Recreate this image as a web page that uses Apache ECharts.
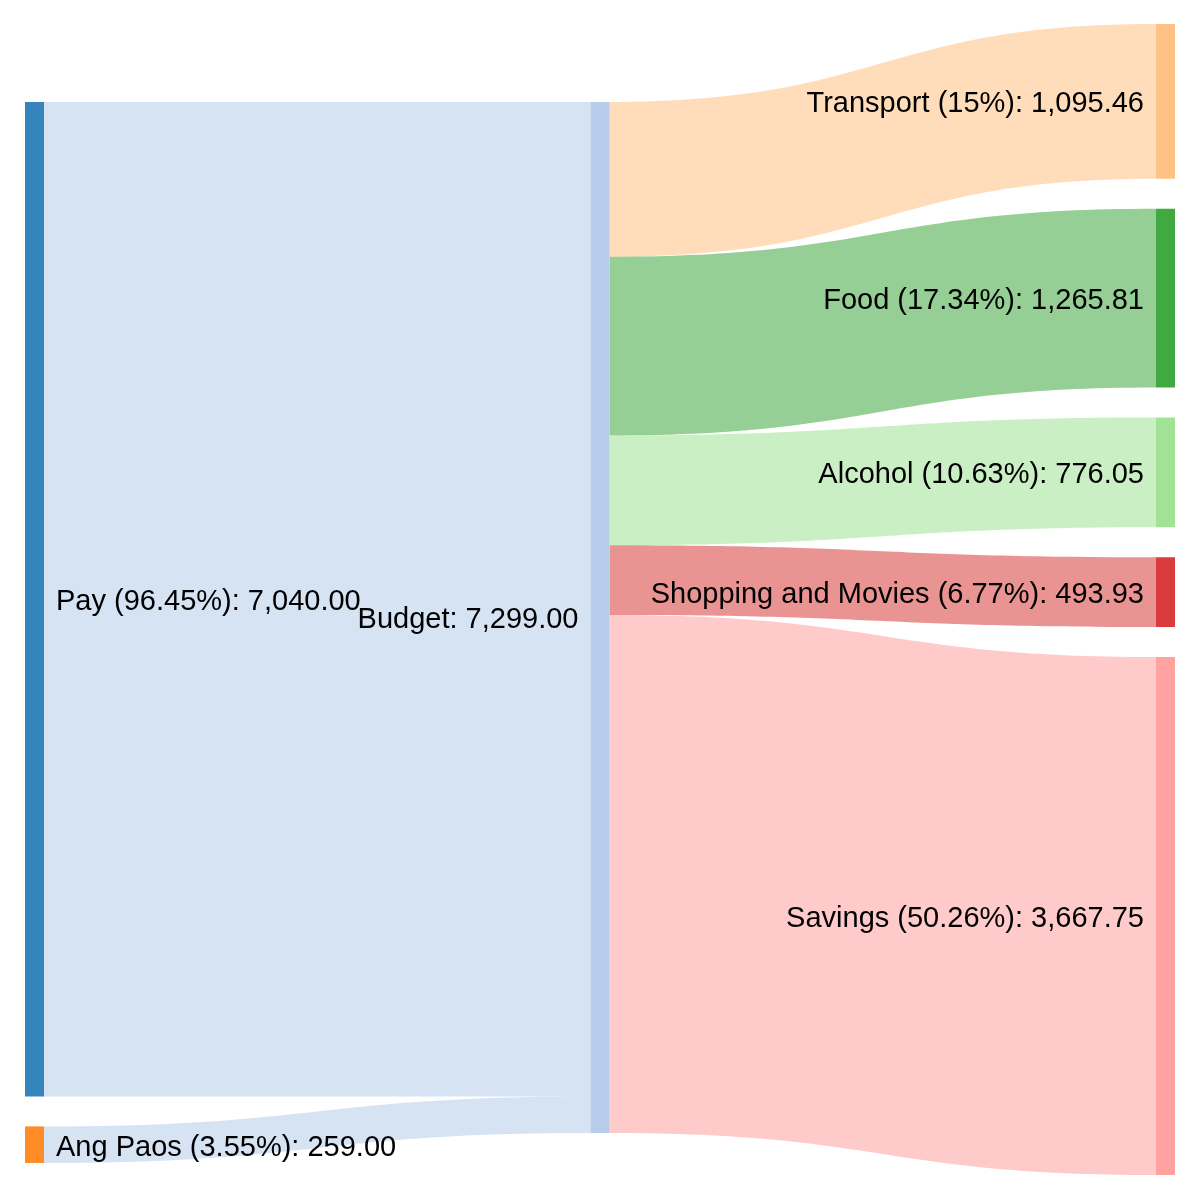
<!DOCTYPE html>
<html>
<head>
<meta charset="utf-8">
<style>html,body{margin:0;padding:0;background:#fff}#c{width:1200px;height:1200px}</style>
<script src="https://cdn.jsdelivr.net/npm/echarts@6/dist/echarts.min.js"></script>
</head>
<body>
<div id="c"></div>
<script>
const nodeNames = ["Pay", "Ang Paos", "Budget", "Transport", "Food", "Alcohol", "Shopping and Movies", "Savings"];
const nodePercents = ["96.45%", "3.55%", null, "15%", "17.34%", "10.63%", "6.77%", "50.26%"];
const nodeColors = ["#1f77b4", "#ff7f0e", "#aec7e8", "#ffbb78", "#2ca02c", "#98df8a", "#d62728", "#ff9896"];
const linkSources = ["Pay", "Ang Paos", "Budget", "Budget", "Budget", "Budget", "Budget"];
const linkTargets = ["Budget", "Budget", "Transport", "Food", "Alcohol", "Shopping and Movies", "Savings"];
const linkValues = [7040.00, 259.00, 1095.46, 1265.81, 776.05, 493.93, 3667.75];

function fmt(v) {
  return v.toLocaleString('en-US', {minimumFractionDigits: 2, maximumFractionDigits: 2});
}
const nodeValue = {};
nodeNames.forEach(n => {
  const inV = linkValues.filter((v, i) => linkTargets[i] === n).reduce((a, b) => a + b, 0);
  const outV = linkValues.filter((v, i) => linkSources[i] === n).reduce((a, b) => a + b, 0);
  nodeValue[n] = Math.max(inV, outV);
});

function buildNodes(localYs) {
  return nodeNames.map((n, i) => {
    const o = {
      name: n,
      itemStyle: {color: nodeColors[i], opacity: 0.9},
      label: {
        position: i < 2 ? 'right' : 'left',
        formatter: nodePercents[i] ? `${n} (${nodePercents[i]}): ${fmt(nodeValue[n])}` : `${n}: ${fmt(nodeValue[n])}`
      }
    };
    if (localYs && localYs[n] != null) o.localY = localYs[n];
    return o;
  });
}
const links = linkValues.map((v, i) => ({source: linkSources[i], target: linkTargets[i], value: v}));

function makeOption(localYs) {
  return {
    backgroundColor: '#ffffff',
    animation: false,
    series: [{
      type: 'sankey',
      left: 25, right: 25, top: 24, bottom: 25,
      nodeWidth: 19,
      nodeGap: 30,
      layoutIterations: 0,
      draggable: false,
      emphasis: {disabled: true},
      data: buildNodes(localYs),
      links: links,
      itemStyle: {borderWidth: 0},
      lineStyle: {color: 'target', opacity: 0.5, curveness: 0.5},
      label: {
        color: '#000',
        fontFamily: 'Liberation Sans, Arial, sans-serif',
        fontSize: 29,
        distance: 12,
        offset: [0, 3],
        textBorderWidth: 0
      }
    }]
  };
}

const chart = echarts.init(document.getElementById('c'), null, {renderer: 'canvas'});
chart.setOption(makeOption(null));

// One relaxation step (as in d3-sankey): centre the middle node on the
// value-weighted centre of its targets, moving the upstream columns with it.
try {
  const sm = chart.getModel().getSeriesByIndex(0);
  const graph = sm.getGraph();
  const H = sm.layoutInfo.height;
  const lay = {};
  graph.eachNode(function (node) {
    lay[nodeNames[node.dataIndex]] = node.getLayout();
  });
  const mid = "Budget";
  let wsum = 0, vsum = 0;
  linkSources.forEach((s, i) => {
    if (s === mid) {
      const t = lay[linkTargets[i]];
      wsum += (t.y + t.dy / 2) * linkValues[i];
      vsum += linkValues[i];
    }
  });
  const shift = wsum / vsum - (lay[mid].y + lay[mid].dy / 2);
  const maxX = Math.max(...nodeNames.map(n => lay[n].x));
  const localYs = {};
  nodeNames.forEach(n => {
    if (lay[n].x < maxX) localYs[n] = (lay[n].y + shift) / H;
  });
  chart.setOption(makeOption(localYs), true);
} catch (e) {
  console.error(e);
}
</script>
</body>
</html>
